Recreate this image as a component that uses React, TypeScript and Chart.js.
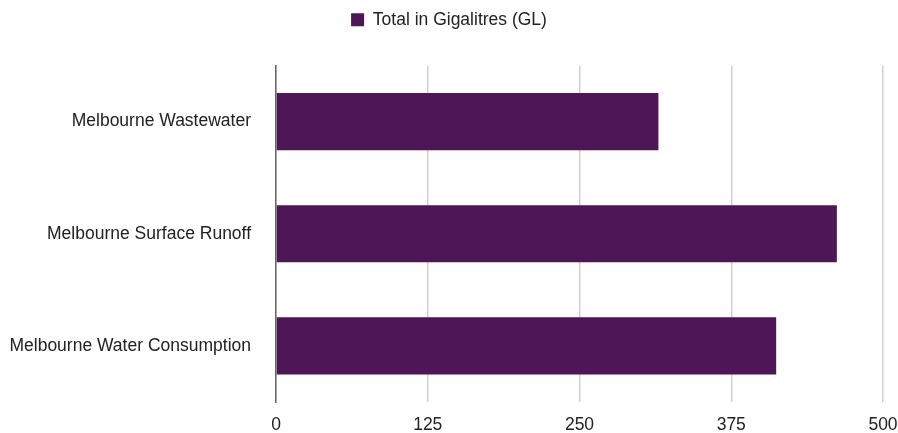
import React, { useEffect, useRef } from "react";
import { Chart, registerables } from "chart.js";

Chart.register(...registerables);

const categories = [
  "Melbourne Wastewater",
  "Melbourne Surface Runoff",
  "Melbourne Water Consumption",
];
const totals = [315, 462, 412];
const xTicks = [0, 125, 250, 375, 500];
const seriesLabel = "Total in Gigalitres (GL)";

const FONT = "'Liberation Sans', Arial, Helvetica, sans-serif";

// Adds extra space beneath the legend so the plot starts lower.
const legendGap = {
  id: "legendGap",
  beforeInit(chart: any) {
    const legend = chart.legend;
    if (!legend) return;
    const fit = legend.fit;
    legend.fit = function () {
      fit.call(this);
      this.height += 27;
    };
  },
};

export default function App() {
  const canvasRef = useRef<HTMLCanvasElement | null>(null);

  useEffect(() => {
    if (!canvasRef.current) return;
    const chart = new Chart(canvasRef.current, {
      type: "bar",
      data: {
        labels: categories,
        datasets: [
          {
            label: seriesLabel,
            data: totals,
            backgroundColor: "#4f1657",
            borderWidth: 0,
            categoryPercentage: 1,
            barPercentage: 0.51,
          },
        ],
      },
      plugins: [legendGap],
      options: {
        indexAxis: "y",
        animation: false,
        responsive: false,
        maintainAspectRatio: false,
        layout: { padding: { top: 0, right: 0, bottom: 0, left: 0 } },
        plugins: {
          legend: {
            display: true,
            position: "top",
            labels: {
              boxWidth: 13,
              boxHeight: 13,
              padding: 11,
              color: "#222",
              font: { family: FONT, size: 17.5 },
            },
          },
          tooltip: { enabled: false },
        },
        scales: {
          x: {
            min: 0,
            max: 500,
            afterBuildTicks: (scale: any) => {
              scale.ticks = xTicks.map((v) => ({ value: v }));
            },
            afterFit: (scale: any) => {
              scale.height = 31;
              scale.paddingRight = 15;
              scale.paddingLeft = 0;
            },
            grid: { color: "#d0d0d0", lineWidth: 1.5, drawTicks: false },
            border: { display: false },
            ticks: {
              color: "#222",
              padding: 13,
              font: { family: FONT, size: 17.5 },
            },
          },
          y: {
            afterFit: (scale: any) => {
              scale.width = 276;
              scale.paddingTop = 0;
              scale.paddingBottom = 0;
            },
            grid: { display: false, drawTicks: false },
            border: { display: true, color: "#666", width: 1.5 },
            ticks: {
              color: "#222",
              padding: 25,
              font: { family: FONT, size: 17.5 },
            },
          },
        },
      },
    });
    return () => chart.destroy();
  }, []);

  return (
    <div style={{ position: "fixed", left: 0, top: 0, width: 898, height: 433, background: "#fff" }}>
      <canvas ref={canvasRef} width={898} height={433} style={{ width: 898, height: 433 }} />
    </div>
  );
}
